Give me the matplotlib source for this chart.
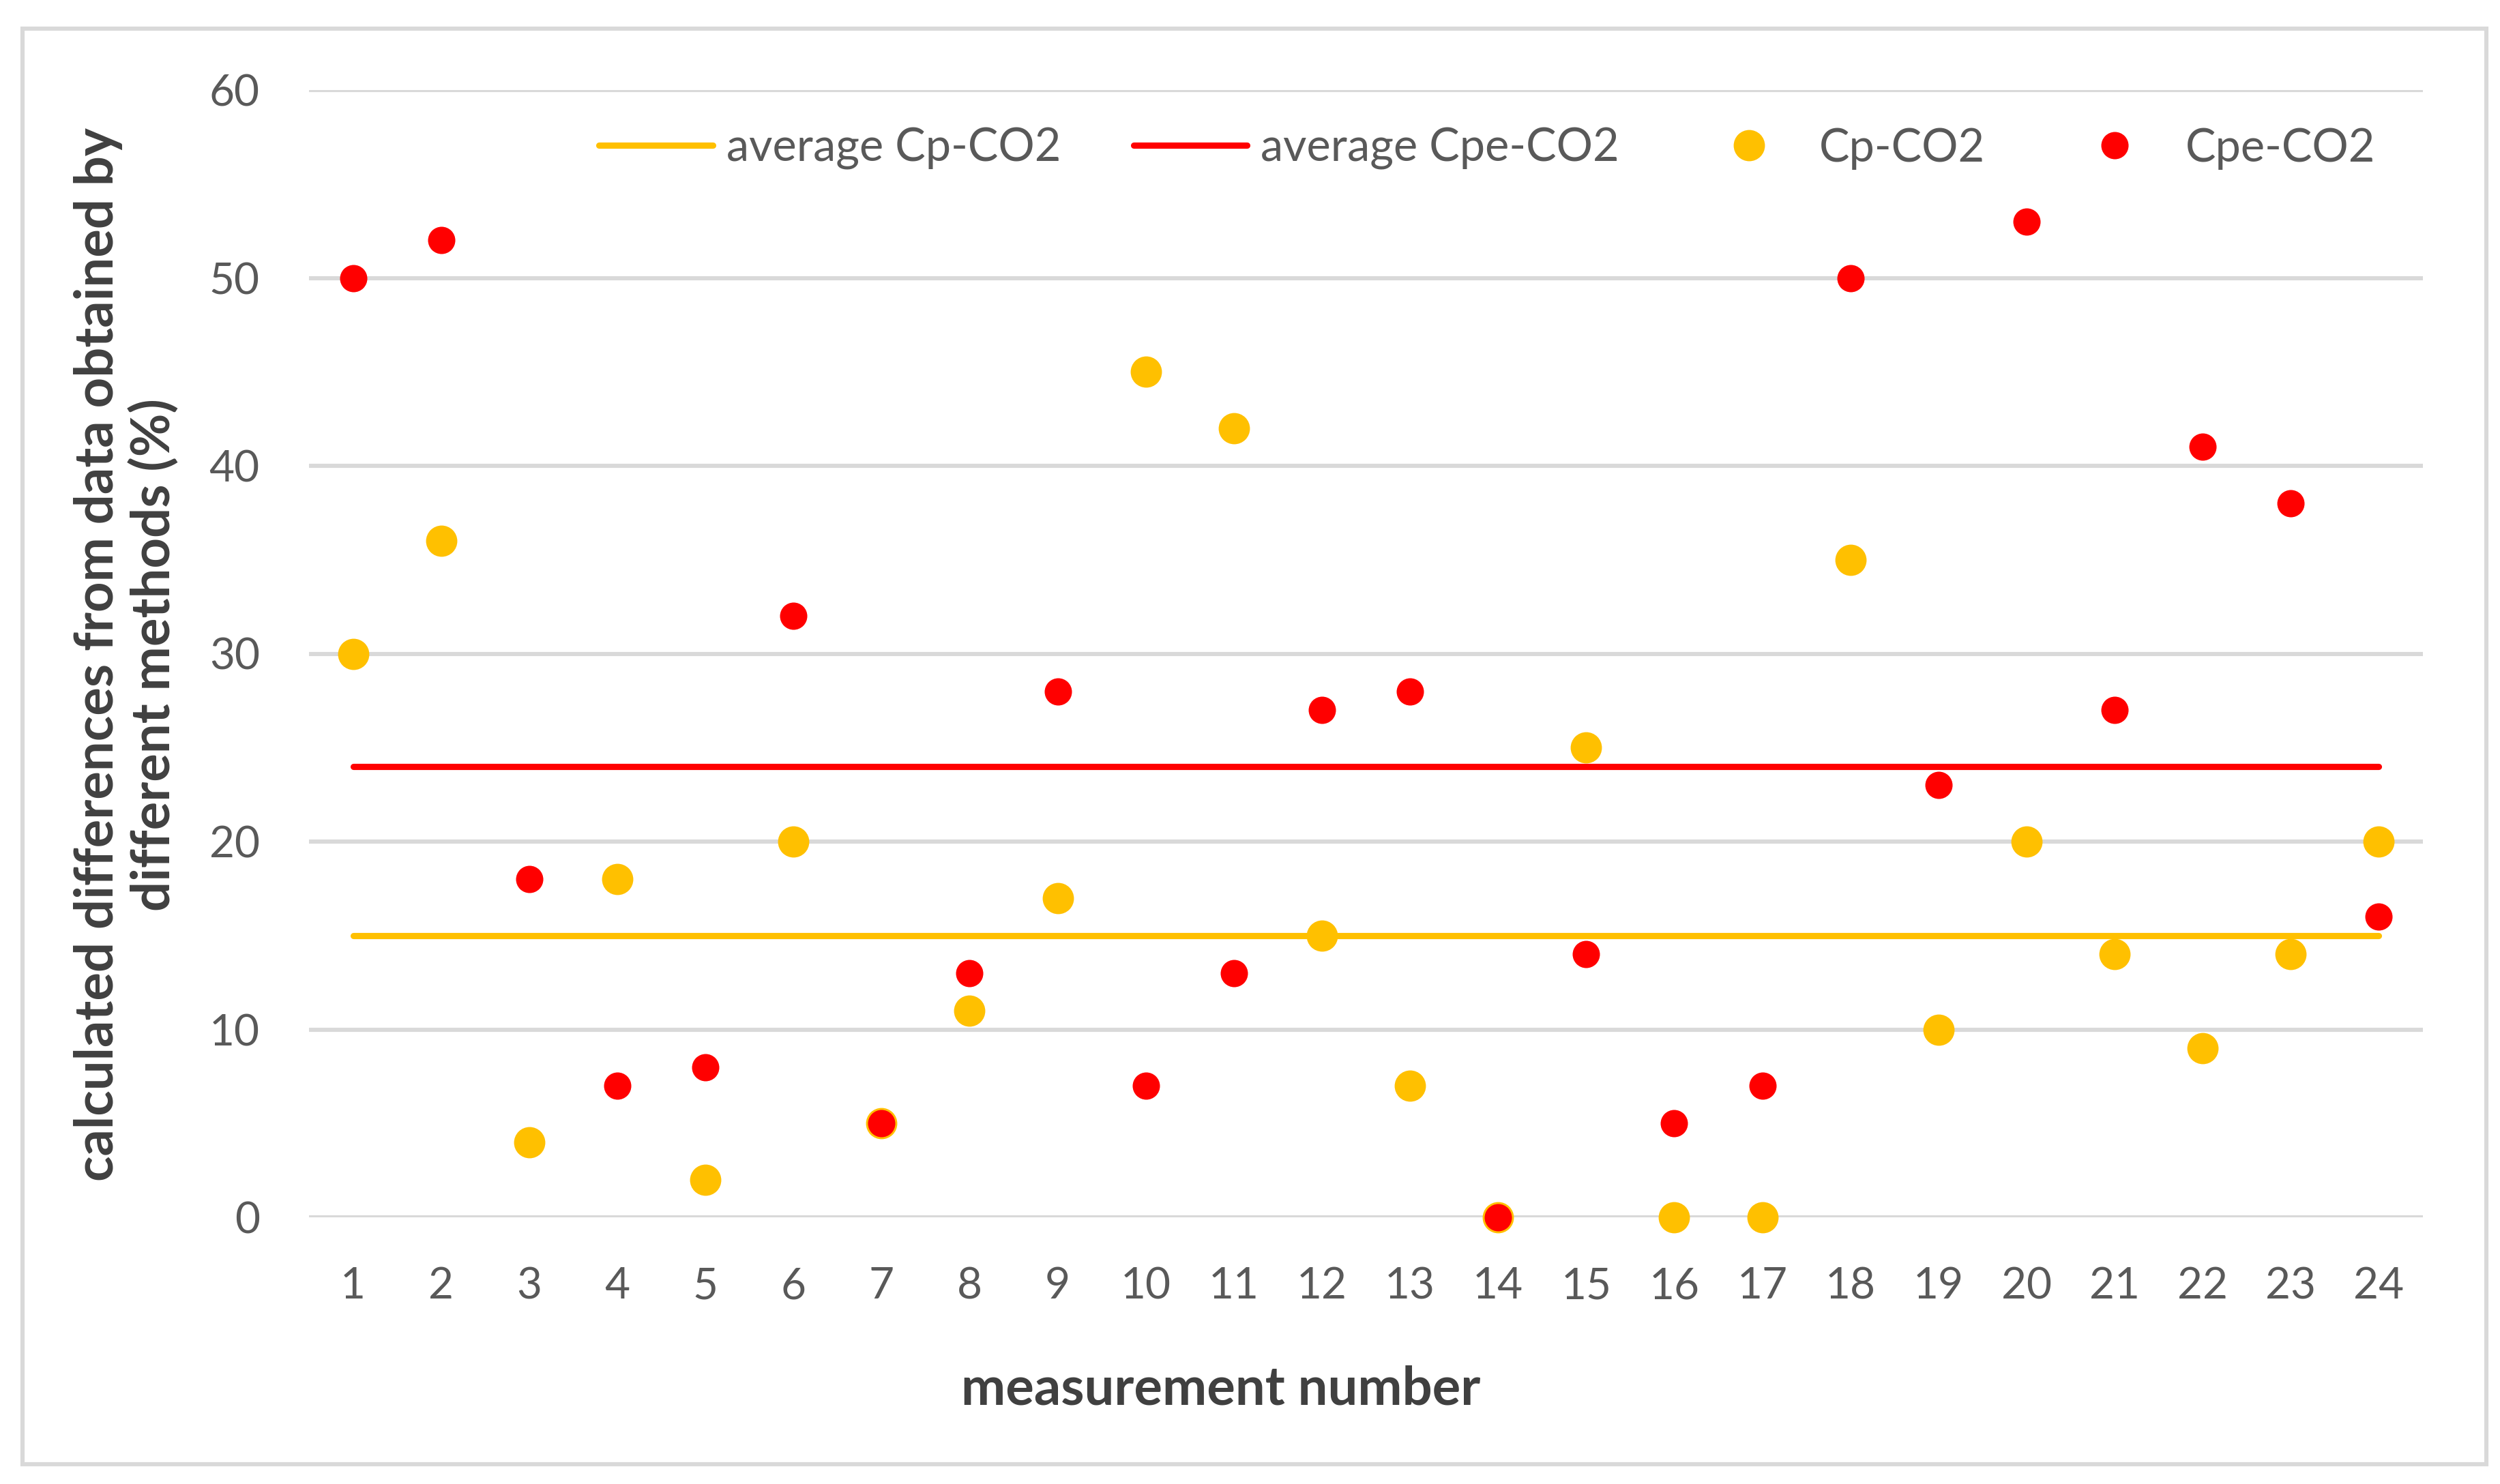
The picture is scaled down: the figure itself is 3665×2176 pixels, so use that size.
import matplotlib
matplotlib.use("Agg")
import matplotlib.pyplot as plt
from matplotlib.patches import Rectangle

# measurement numbers and the two computed series (%)
measurement = list(range(1, 25))
cp_co2 = [30, 36, 4, 18, 2, 20, 5, 11, 17, 45, 42, 15, 7, 0, 25, 0, 0, 35, 10, 20, 14, 9, 14, 20]
cpe_co2 = [50, 52, 18, 7, 8, 32, 5, 13, 28, 7, 13, 27, 28, 0, 14, 5, 7, 50, 23, 53, 27, 41, 38, 16]
avg_cp = 15
avg_cpe = 24
yticks = [0, 10, 20, 30, 40, 50, 60]

YELLOW = "#FFC000"
RED = "#FF0000"
GRID = "#D9D9D9"
TICK = "#595959"
LABEL = "#404040"

plt.rcParams["font.family"] = ["Lato", "DejaVu Sans"]

W, H = 3665, 2176
DPI = 200
fig = plt.figure(figsize=(W / DPI, H / DPI), dpi=DPI)

# outer chart border
fig.patches.append(Rectangle((33 / W, 1 - 2147 / H), (3645 - 33) / W, (2147 - 42) / H,
                             transform=fig.transFigure, fill=False,
                             edgecolor=GRID, lw=2.2))

ax = fig.add_axes([453 / W, 1 - 1785 / H, (3552 - 453) / W, (1785 - 132) / H])

# average lines
ax.plot([measurement[0], measurement[-1]], [avg_cp, avg_cp], color=YELLOW, lw=3.3,
        solid_capstyle="round", label="average Cp-CO2", zorder=2)
ax.plot([measurement[0], measurement[-1]], [avg_cpe, avg_cpe], color=RED, lw=3.3,
        solid_capstyle="round", label="average Cpe-CO2", zorder=2)

# scatter points
ax.plot(measurement, cp_co2, linestyle="None", marker="o", markersize=16.5,
        color=YELLOW, markeredgewidth=0, label="Cp-CO2", zorder=3, clip_on=False)
ax.plot(measurement, cpe_co2, linestyle="None", marker="o", markersize=14.4,
        color=RED, markeredgewidth=0, label="Cpe-CO2", zorder=4, clip_on=False)

ax.set_xlim(0.5, 24.5)
ax.set_ylim(0, 60)
ax.set_xticks(measurement)
ax.set_yticks(yticks)
ax.tick_params(length=0, labelsize=23, labelcolor=TICK)
ax.tick_params(axis="x", pad=26)
ax.tick_params(axis="y", pad=26)
for s in ax.spines.values():
    s.set_visible(False)
ax.grid(True, axis="y", color=GRID, lw=2.2)
ax.set_axisbelow(True)
ax.patch.set_visible(False)

leg = fig.legend(loc="center", bbox_to_anchor=(2180 / W, 1 - 218 / H), ncol=4,
                 frameon=False, fontsize=24, handlelength=2.5, handletextpad=0.3,
                 columnspacing=1.6, labelcolor=TICK)

fig.text(1790 / W, 1 - 2038 / H, "measurement number", ha="center", va="center",
         fontsize=28, fontweight="bold", color=LABEL)
fig.text(186 / W, 1 - 960 / H,
         "calculated differences from data obtained by\ndifferent methods (%)",
         ha="center", va="center", rotation=90, multialignment="center",
         fontsize=28, fontweight="bold", color=LABEL, linespacing=1.15)

fig.savefig("out.png", dpi=DPI)
